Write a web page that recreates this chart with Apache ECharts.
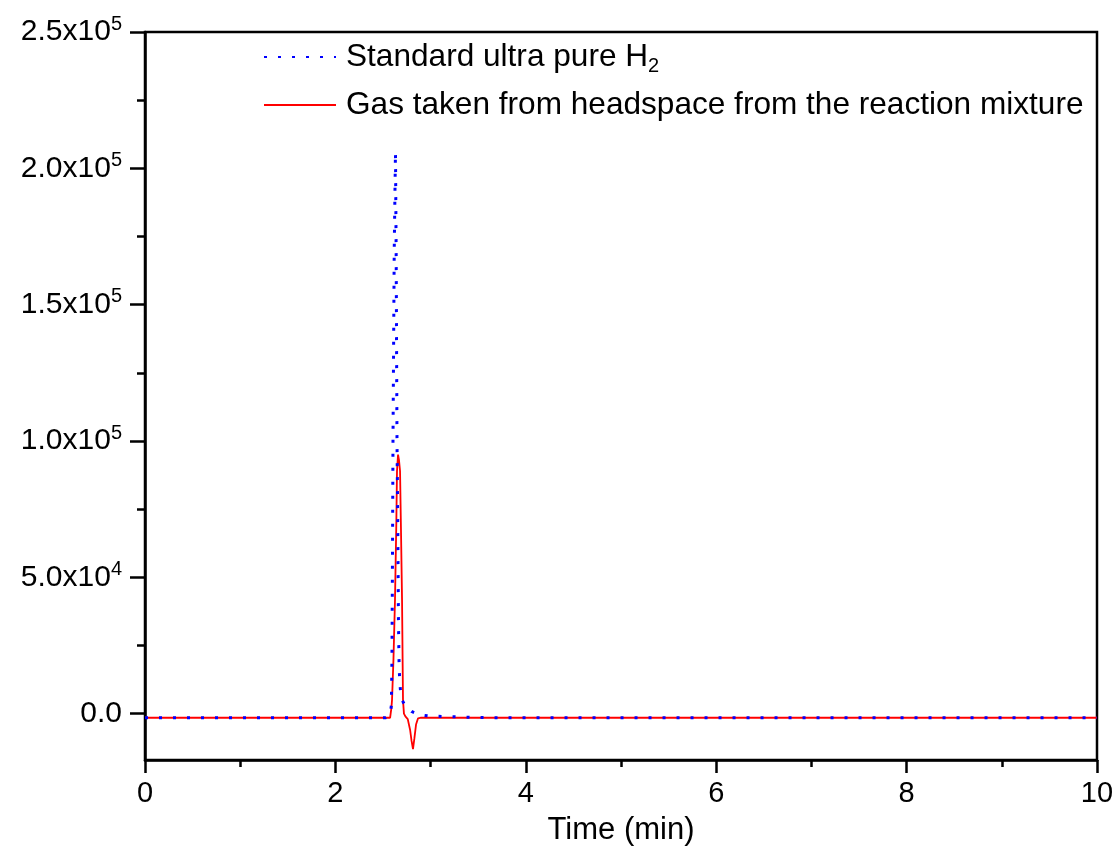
<!DOCTYPE html>
<html>
<head>
<meta charset="utf-8">
<script src="https://cdn.jsdelivr.net/npm/echarts@6/dist/echarts.min.js"></script>
<style>
html,body{margin:0;padding:0;background:#fff;}
#chart{width:1119px;height:851px;}
</style>
</head>
<body>
<div id="chart"></div>
<script>
// ---- data ----
const seriesNames = ['Standard ultra pure H2', 'Gas taken from headspace from the reaction mixture'];

const blueTime   = [0, 2.53, 2.575, 2.588, 2.594, 2.600, 2.605, 2.618, 2.631, 2.638, 2.647, 2.655, 2.662, 2.668, 2.675, 2.685, 2.70, 2.74, 2.80, 2.88, 3.0, 3.3, 3.6, 10];
const blueSignal = [-1500, -1500, -300, 3000, 20000, 60000, 100000, 170000, 206000, 170000, 100000, 70000, 35000, 20000, 12000, 8000, 5000, 2500, 800, -400, -900, -1200, -1500, -1500];

const redTime   = [0, 2.575, 2.588, 2.595, 2.61, 2.626, 2.64, 2.647, 2.658, 2.668, 2.679, 2.69, 2.70, 2.71, 2.72, 2.735, 2.76, 2.785, 2.80, 2.815, 2.83, 2.847, 2.868, 2.9, 10];
const redSignal = [-1500, -1500, 2000, 5100, 20000, 41800, 70000, 89000, 95000, 93000, 89000, 65000, 41800, 5100, 0, -1000, -2000, -6000, -10000, -13000, -9000, -4000, -1700, -1500, -1500];

const xTicks = [0, 2, 4, 6, 8, 10];
const yTicks = [0, 50000, 100000, 150000, 200000, 250000];
const yTickLabels = ['0.0', '5.0x10^4', '1.0x10^5', '1.5x10^5', '2.0x10^5', '2.5x10^5'];
const yMinorTicks = [25000, 75000, 125000, 175000, 225000];

// ---- chart ----
const FONT = "'Liberation Sans', Arial, sans-serif";
const chart = echarts.init(document.getElementById('chart'), null, {renderer: 'canvas'});

function yLabel(v) {
  const i = yTicks.indexOf(v);
  if (i < 0) return '';
  const s = yTickLabels[i];
  if (s.indexOf('^') < 0) return '{b|' + s + '}';
  const parts = s.split('^');
  return '{b|' + parts[0] + '}{sup|' + parts[1] + '}';
}

const option = {
  backgroundColor: '#ffffff',
  animation: false,
  grid: {
    left: 145, right: 22, top: 32, bottom: 90,
    show: true, borderColor: '#000', borderWidth: 2.5, backgroundColor: 'transparent'
  },
  legend: {
    orient: 'vertical',
    left: 258, top: 36,
    itemWidth: 72, itemHeight: 14, itemGap: 13,
    data: seriesNames,
    itemStyle: {opacity: 0},
    formatter: function (name) {
      if (name === seriesNames[0]) return '{t|Standard ultra pure H}{sub|2}';
      return '{t|' + name + '}';
    },
    textStyle: {
      fontFamily: FONT, fontSize: 31.6, color: '#000',
      padding: [0, 0, 0, 5],
      rich: {
        t: {fontFamily: FONT, fontSize: 31.6, color: '#000', lineHeight: 38},
        sub: {fontFamily: FONT, fontSize: 20, color: '#000', lineHeight: 16, verticalAlign: 'bottom'}
      }
    }
  },
  xAxis: {
    type: 'value',
    min: 0, max: 10, interval: 2,
    name: 'Time (min)',
    nameLocation: 'middle',
    nameGap: 55,
    nameTextStyle: {fontFamily: FONT, fontSize: 31, color: '#000'},
    axisLine: {show: true, onZero: false, lineStyle: {color: '#000', width: 2.5}},
    axisTick: {show: true, inside: false, length: 13, lineStyle: {color: '#000', width: 2.5}, customValues: xTicks},
    minorTick: {show: true, splitNumber: 2, length: 7, lineStyle: {color: '#000', width: 2.5}},
    axisLabel: {fontFamily: FONT, fontSize: 29, color: '#000', margin: 19, customValues: xTicks},
    splitLine: {show: false},
    minorSplitLine: {show: false}
  },
  yAxis: [{
    type: 'value',
    position: 'left',
    min: -17000, max: 250000,
    axisLine: {show: true, onZero: false, lineStyle: {color: '#000', width: 2.5}},
    axisTick: {show: true, inside: false, length: 15, lineStyle: {color: '#000', width: 2.5}, customValues: yTicks},
    axisLabel: {
      margin: 23,
      customValues: yTicks,
      formatter: yLabel,
      rich: {
        b: {fontFamily: FONT, fontSize: 30, color: '#000', lineHeight: 36},
        sup: {fontFamily: FONT, fontSize: 20, color: '#000', lineHeight: 22, verticalAlign: 'top'}
      }
    },
    splitLine: {show: false}
  }, {
    type: 'value',
    position: 'left',
    offset: 0,
    min: -17000, max: 250000,
    axisLine: {show: false, onZero: false},
    axisTick: {show: true, inside: false, length: 8, lineStyle: {color: '#000', width: 2.5}, customValues: yMinorTicks},
    axisLabel: {show: false},
    splitLine: {show: false}
  }],
  series: [{
    name: seriesNames[1],
    type: 'line',
    symbol: 'none',
    z: 2,
    data: redTime.map((t, i) => [t, redSignal[i]]),
    lineStyle: {color: '#ff0000', width: 1.8, type: 'solid'},
    itemStyle: {color: '#ff0000'}
  }, {
    name: seriesNames[0],
    type: 'line',
    symbol: 'none',
    z: 3,
    data: blueTime.map((t, i) => [t, blueSignal[i]]),
    lineStyle: {color: '#0000ff', width: 3, type: [3, 11]},
    itemStyle: {color: '#0000ff'}
  }]
};
chart.setOption(option);
</script>
</body>
</html>
